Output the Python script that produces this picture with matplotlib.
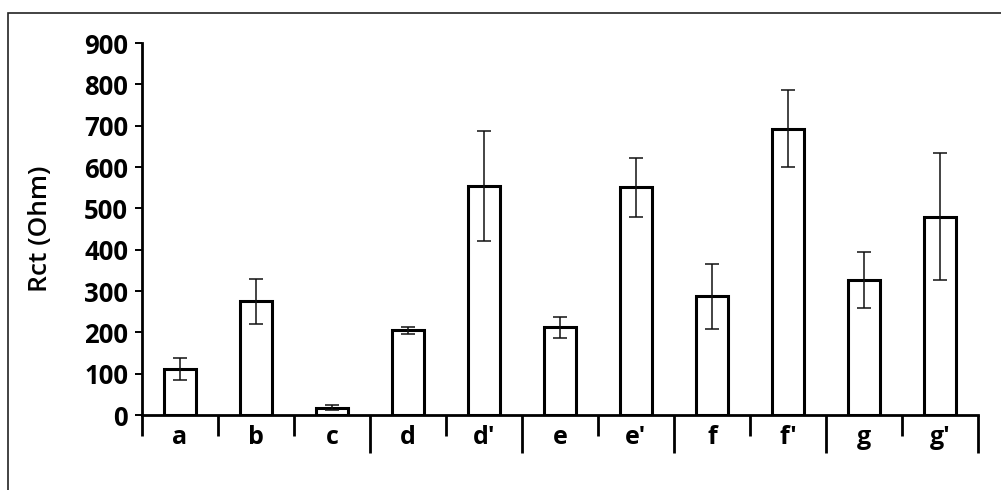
import matplotlib.pyplot as plt
import matplotlib.patches as mpatches
import numpy as np

# Rct values per sample
categories = ["a", "b", "c", "d", "d'", "e", "e'", "f", "f'", "g", "g'"]
rct = [112, 275, 18, 205, 555, 212, 551, 287, 693, 327, 480]
rct_err = [27, 55, 5, 8, 133, 26, 71, 78, 94, 67, 153]
y_ticks = [0, 100, 200, 300, 400, 500, 600, 700, 800, 900]

# separators between categories: long ones at these boundary indexes
long_bounds = [3, 5, 7, 9, 11]

FONT = "Open Sans"
W, H = 1001, 490

fig = plt.figure(figsize=(W / 100, H / 100), dpi=100)
fig.patch.set_facecolor("white")

# outer frame (only top and left visible in the source image)
frame = mpatches.Rectangle((8 / W, -0.05), 1.05, 1 - 13 / H + 0.05,
                           transform=fig.transFigure, fill=False,
                           edgecolor="#222222", linewidth=1.2)
fig.add_artist(frame)

ax = fig.add_axes([142 / W, 1 - 415 / H, (978 - 142) / W, (415 - 43) / H])

x = np.arange(len(categories))
ax.bar(x, rct, width=0.41, color="white", edgecolor="black", linewidth=2.2,
       zorder=2)
ax.errorbar(x, rct, yerr=rct_err, fmt="none", ecolor="#111111",
            elinewidth=1.1, capsize=5, capthick=1.1, zorder=3)

ax.set_xlim(-0.5, len(categories) - 0.5)
ax.set_ylim(0, 900)
ax.set_yticks(y_ticks)
ax.set_yticklabels([str(t) for t in y_ticks], fontfamily=FONT,
                   fontweight="bold", fontsize=18.5)
ax.tick_params(axis="y", direction="out", length=5, width=1.4, pad=5)

ax.set_xticks(x)
ax.set_xticklabels(categories, fontfamily=FONT, fontweight="bold",
                   fontsize=18)
ax.tick_params(axis="x", length=0, pad=7)

for side in ("top", "right"):
    ax.spines[side].set_visible(False)
ax.spines["left"].set_linewidth(2)
ax.spines["bottom"].set_linewidth(2)

# category separators hanging below the x axis
ax_h = 415 - 43
for b in range(len(categories) + 1):
    depth = 38 if b in long_bounds else 21
    ax.plot([b - 0.5, b - 0.5], [0, -depth / ax_h], color="black",
            linewidth=2, transform=ax.get_xaxis_transform(), clip_on=False,
            solid_capstyle="butt")

ax.set_ylabel("Rct (Ohm)", fontfamily=FONT, fontweight="semibold",
              fontsize=19, labelpad=22)

fig.savefig("out.png", dpi=100, facecolor="white")
